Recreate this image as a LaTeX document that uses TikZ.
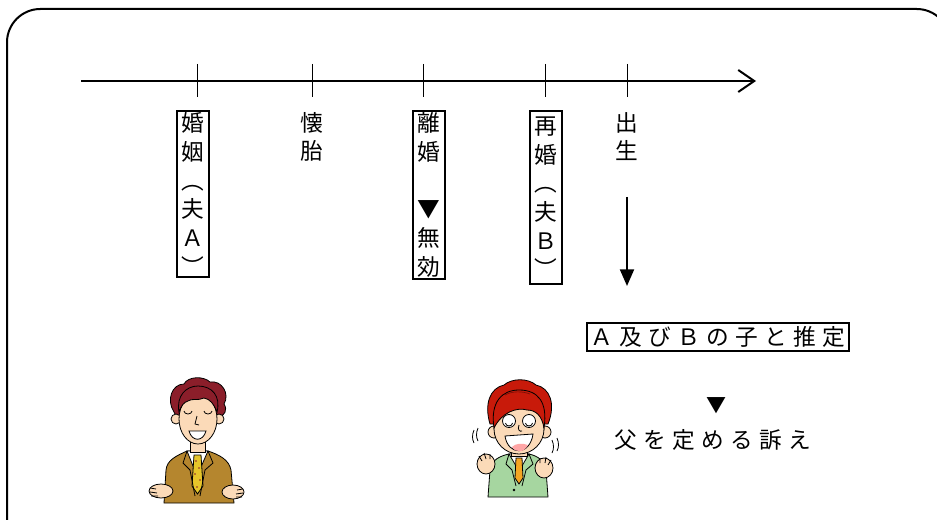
\documentclass[tikz,border=0pt]{standalone}
\usepackage{fontspec}
\newfontfamily\jpfont{Noto Sans CJK JP}
\newfontfamily\jpspaced[LetterSpace=28]{Noto Sans CJK JP}
\usetikzlibrary{arrows.meta}

\definecolor{skin}{HTML}{FBDAB8}
\definecolor{suitA}{HTML}{B5862E}
\definecolor{hairA}{HTML}{8B1E2A}
\definecolor{tieA}{HTML}{E6C52A}
\definecolor{suitB}{HTML}{A6D6A0}
\definecolor{hairB}{HTML}{C81A0A}
\definecolor{tieB}{HTML}{F5A623}

\begin{document}
\begin{tikzpicture}[x=0.75pt,y=-0.75pt,
  frame/.style={line width=1.5pt, rounded corners=25pt},
  timeline/.style={line width=1.5pt, -{Straight Barb[length=12pt,width=16.5pt,line width=1.5pt]}},
  tickmark/.style={line width=0.75pt},
  vtext/.style={font=\jpfont\fontsize{17}{21.5}\selectfont, align=center, anchor=north, inner xsep=3.5pt, inner ysep=1.5pt},
  vbox/.style={vtext, draw, line width=1.4pt},
  htext/.style={font=\jpspaced\fontsize{17}{21.5}\selectfont},
  hbox/.style={htext, draw, line width=1.4pt, inner xsep=2.5pt, inner ysep=2.5pt},
  downarrow/.style={line width=1.5pt, -{Triangle[length=12.5pt,width=10.5pt]}},
  outline/.style={draw=black, line width=0.6pt}
]
\useasboundingbox (0,0) rectangle (937,520);

% rounded outer frame (runs past the right and bottom edges)
\draw[frame] (7,9) rectangle (950,560);

% time axis with tick marks
\coordinate (axisstart) at (81,81);
\coordinate (axisend) at (756,81);
\draw[timeline] (axisstart) -- (axisend);
\foreach \x in {197,312,423,545,627}
  \draw[tickmark] (\x,64) -- (\x,97);

% events under the axis, written vertically
\node[vbox] (marriage) at (193,110) {婚\\姻\\︵\\夫\\Ａ\\︶};
\node[vtext] (conception) at (312,110) {懐\\胎};
\node[vbox] (divorce) at (429,110) {離\\婚\\\phantom{婚}\\▼\\無\\効};
\node[vbox, minimum height=129.75pt] (remarriage) at (546,110) {再\\婚\\︵\\夫\\Ｂ\\︶};
\node[vtext] (birth) at (627,110) {出\\生};

% consequence of the birth
\coordinate (arrowtop) at (627,197);
\coordinate (arrowtip) at (627,286);
\draw[downarrow] (arrowtop) -- (arrowtip);

\node[hbox] (presumed) at (718,337) {Ａ及びＢの子と推定};
\node[font=\jpfont\fontsize{15}{18}\selectfont] (pointer) at (716,406) {▼};
\node[htext] (lawsuit) at (713,440) {父を定める訴え};

% ---- husband A: brown suit ----
\begin{scope}
  \filldraw[suitA, outline] (164,503) -- (166,470) .. controls (167,460) and (176,456) .. (187,451)
    -- (208,451) .. controls (220,455) and (229,460) .. (231,470) -- (234,503) -- cycle;
  \filldraw[fill=white, outline] (187,451) -- (197,476) -- (208,451) -- cycle;
  \filldraw[tieA, outline] (194,455) -- (201,455) -- (203,486) -- (197.5,494) -- (192,486) -- cycle;
  \foreach \p in {(196,461),(199,468),(195,474),(200,480),(197,487)}
    \fill[hairA] \p circle (0.9);
  \draw[outline] (187,451) -- (183,463) -- (190,470) -- (195,496);
  \draw[outline] (208,451) -- (213,463) -- (205,470) -- (200,496);
  \filldraw[skin, outline] (190,438) rectangle (205,452);
  % hands
  \filldraw[skin, outline] (161,491) ellipse (12 and 7);
  \draw[outline] (150,488) -- (156,489) (150,492) -- (157,493) (151,496) -- (158,496);
  \filldraw[skin, outline] (233,492) ellipse (11 and 7);
  \draw[outline] (243,489) -- (237,490) (243,493) -- (236,494) (242,497) -- (236,497);
  % head with wavy hair
  \filldraw[hairA, outline] (174,412) .. controls (166,400) and (172,384) .. (184,384)
    .. controls (188,376) and (204,376) .. (210,382)
    .. controls (222,380) and (230,394) .. (224,404)
    .. controls (228,410) and (224,416) .. (220,416) -- (176,416) -- cycle;
  \filldraw[skin, outline] (176,419) circle (5);
  \filldraw[skin, outline] (219,419) circle (5);
  \filldraw[skin, outline] (198,419) ellipse (19 and 25);
  \filldraw[hairA, outline] (179,412) .. controls (176,396) and (186,386) .. (198,386)
    .. controls (212,386) and (221,396) .. (217,412)
    .. controls (214,404) and (210,399) .. (204,398)
    .. controls (198,401) and (192,398) .. (188,401)
    .. controls (184,402) and (181,406) .. (179,412) -- cycle;
  \draw[outline] (184,411) arc (180:0:4 and 3);
  \draw[outline] (204,411) arc (180:0:4 and 3);
  \draw[outline] (197,416) -- (195,424) -- (199,425);
  \filldraw[fill=white, outline] (189,431) .. controls (192,442) and (203,442) .. (206,431) -- cycle;
\end{scope}

% ---- husband B: green suit ----
\begin{scope}
  \filldraw[suitB, outline] (488,497) -- (490,470) .. controls (491,460) and (500,456) .. (509,454)
    -- (529,454) .. controls (538,456) and (545,461) .. (546,470) -- (548,497) -- cycle;
  \filldraw[fill=white, outline] (509,454) -- (519,471) -- (529,454) -- cycle;
  \filldraw[tieB, outline] (516,458) -- (522,458) -- (523,478) -- (519,484) -- (515,478) -- cycle;
  \draw[outline] (509,454) -- (506,464) -- (512,470) -- (516,486);
  \draw[outline] (529,454) -- (533,464) -- (526,470) -- (522,486);
  \fill (514,490) circle (1.3);
  \filldraw[skin, outline] (511,446) rectangle (527,456);
  % raised hands
  \filldraw[skin, outline] (486,464) ellipse (9 and 10);
  \draw[outline] (479,456) -- (482,461) (484,453) -- (486,459) (490,454) -- (490,459);
  \filldraw[skin, outline] (544,468) ellipse (9 and 10);
  \draw[outline] (551,460) -- (548,465) (546,457) -- (545,463) (540,458) -- (540,463);
  % head with tall red hair
  \filldraw[hairB, outline] (490,424) .. controls (484,404) and (490,388) .. (504,385)
    .. controls (512,378) and (528,378) .. (536,385)
    .. controls (550,388) and (556,404) .. (548,424) -- cycle;
  \filldraw[skin, outline] (494,432) circle (6);
  \filldraw[skin, outline] (545,432) circle (6);
  \filldraw[skin, outline] (519,429) ellipse (25 and 25);
  \filldraw[hairB, outline] (494,428) .. controls (490,402) and (502,390) .. (519,390)
    .. controls (538,390) and (548,402) .. (544,428)
    .. controls (542,416) and (536,410) .. (527,410)
    .. controls (517,407) and (502,412) .. (494,428) -- cycle;
  \draw[hairB!60!black, line width=0.5pt] (505,395) .. controls (512,391) and (522,391) .. (530,394);
  \filldraw[fill=white, outline] (509,421) circle (6.5);
  \filldraw[fill=white, outline] (529,421) circle (6.5);
  \draw[outline] (505.5,423) arc (180:0:3.5 and 3);
  \draw[outline] (525.5,423) arc (180:0:3.5 and 3);
  \draw[outline] (519,425) .. controls (517,430) and (520,432) .. (522,431);
  \filldraw[fill=white, outline] (505,436) .. controls (508,456) and (530,456) .. (533,434) -- cycle;
  \fill[red!35] (512,447) .. controls (516,453) and (524,453) .. (528,445) .. controls (522,443) and (516,443) .. (512,447) -- cycle;
  % shaking motion marks
  \draw[outline] (474,430) .. controls (472,435) and (472,439) .. (474,443);
  \draw[outline] (478,428) .. controls (476,433) and (476,437) .. (478,441);
  \draw[outline] (552,440) .. controls (554,445) and (554,449) .. (552,453);
  \draw[outline] (557,438) .. controls (559,443) and (559,447) .. (557,451);
\end{scope}
\end{tikzpicture}
\end{document}
